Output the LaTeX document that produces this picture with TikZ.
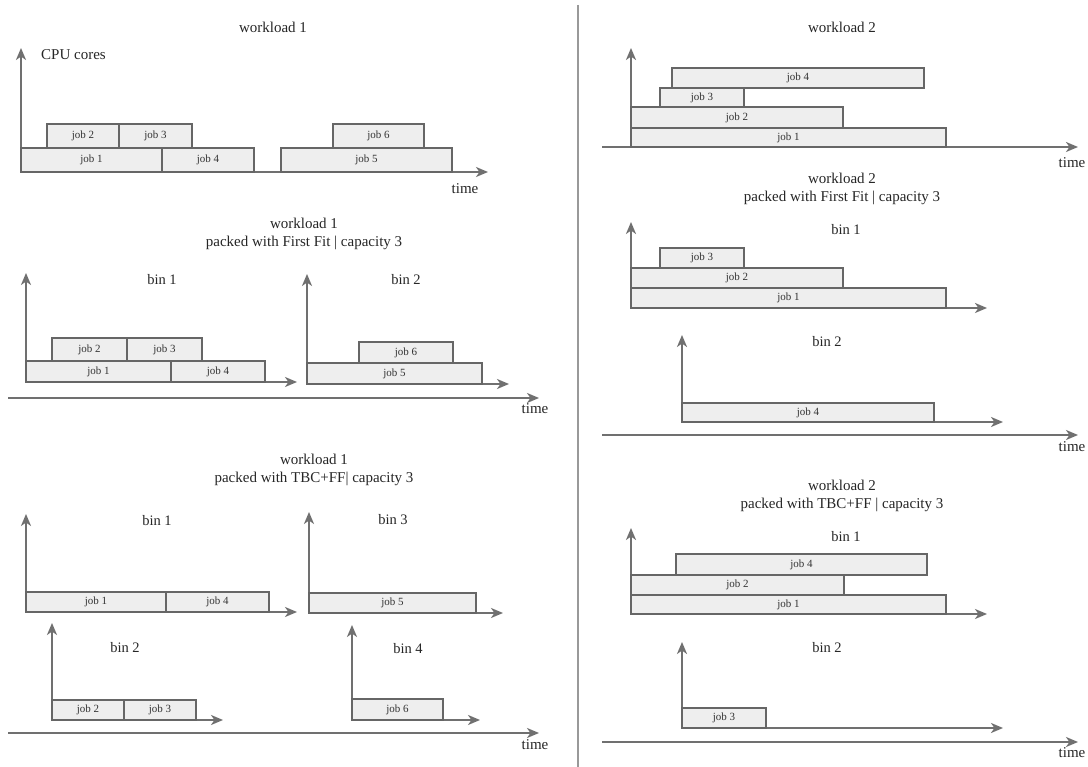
\documentclass[tikz,border=0pt]{standalone}
\usepackage{fontspec}
\setmainfont{Liberation Serif}
\usetikzlibrary{arrows.meta}
\definecolor{axisgray}{HTML}{707070}
\definecolor{boxline}{HTML}{666666}
\definecolor{boxfill}{HTML}{EEEEEE}
\definecolor{divgray}{HTML}{999999}
\tikzset{
  jobsty/.style={draw=boxline, fill=boxfill, line width=1.5pt, inner sep=0pt, outer sep=0pt,
    font=\fontsize{11}{13}\selectfont, text=black!80},
  axisln/.style={draw=axisgray, line width=2pt, line join=miter},
  tip/.style={-{Stealth[length=12pt,width=10pt,inset=3.5pt]}},
  tiptwo/.style={{Stealth[length=12pt,width=10pt,inset=3.5pt]}-{Stealth[length=12pt,width=10pt,inset=3.5pt]}},
  titlesty/.style={font=\fontsize{15}{18}\selectfont, align=center, text=black!85, inner sep=0pt},
  binsty/.style={font=\fontsize{14.5}{17}\selectfont, text=black!85, inner sep=0pt},
  timesty/.style={font=\fontsize{15}{18}\selectfont, text=black!85, inner sep=0pt},
}
\newcommand{\jobbox}[6]{\node[jobsty, minimum width={(#4)-(#2)}, minimum height={(#5)-(#3)}] (#1) at ({((#2)+(#4))/2},{((#3)+(#5))/2}) {#6};}
\begin{document}
\begin{tikzpicture}[x=1pt,y=-1pt]
\useasboundingbox (0,0) rectangle (1088,767);
\fill[white] (0,0) rectangle (1088,767);

% divider
\coordinate (divtop) at (578,5);
\coordinate (divbot) at (578,767);
\draw[draw=divgray, line width=1.5pt] (divtop) -- (divbot);

% ===== workload 1 =====
\node[titlesty] (t1) at (273,27) {workload 1};
\node[titlesty, anchor=west] (cpu) at (41,55) {CPU cores};
\coordinate (a1o) at (21,172);
\coordinate (a1y) at (21,48);
\coordinate (a1x) at (488,172);
\draw[axisln, tiptwo] (a1y) -- (a1o) -- (a1x);
\node[timesty] (time1) at (465,189) {time};
\jobbox{w1j1}{21}{148}{162}{172}{job 1}
\jobbox{w1j4}{162}{148}{254}{172}{job 4}
\jobbox{w1j2}{47}{124}{119}{148}{job 2}
\jobbox{w1j3}{119}{124}{192}{148}{job 3}
\jobbox{w1j5}{281}{148}{452}{172}{job 5}
\jobbox{w1j6}{333}{124}{424}{148}{job 6}

% ===== workload 1 First Fit =====
\node[titlesty] (t2) at (304,234) {workload 1\\packed with First Fit | capacity 3};
\coordinate (b1o) at (26,382);
\coordinate (b1y) at (26,273);
\coordinate (b1x) at (297,382);
\draw[axisln, tiptwo] (b1y) -- (b1o) -- (b1x);
\node[binsty] (bin1a) at (162,280) {bin 1};
\jobbox{f1j1}{26}{361}{171}{382}{job 1}
\jobbox{f1j4}{171}{361}{265}{382}{job 4}
\jobbox{f1j2}{52}{338}{127}{361}{job 2}
\jobbox{f1j3}{127}{338}{202}{361}{job 3}
\coordinate (b2o) at (307,384);
\coordinate (b2y) at (307,274);
\coordinate (b2x) at (509,384);
\draw[axisln, tiptwo] (b2y) -- (b2o) -- (b2x);
\node[binsty] (bin2a) at (406,280) {bin 2};
\jobbox{f1j5}{307}{363}{482}{384}{job 5}
\jobbox{f1j6}{359}{342}{453}{363}{job 6}
\coordinate (L1s) at (8,398);
\coordinate (L1e) at (539,398);
\draw[axisln, tip] (L1s) -- (L1e);
\node[timesty] (time2) at (535,409) {time};

% ===== workload 1 TBC+FF =====
\node[titlesty] (t3) at (314,470) {workload 1\\packed with TBC+FF| capacity 3};
\coordinate (c1o) at (26,612);
\coordinate (c1y) at (26,514);
\coordinate (c1x) at (297,612);
\draw[axisln, tiptwo] (c1y) -- (c1o) -- (c1x);
\node[binsty] (bin1b) at (157,521) {bin 1};
\jobbox{t1j1}{26}{592}{166}{612}{job 1}
\jobbox{t1j4}{166}{592}{269}{612}{job 4}
\coordinate (c2o) at (52,720);
\coordinate (c2y) at (52,623);
\coordinate (c2x) at (223,720);
\draw[axisln, tiptwo] (c2y) -- (c2o) -- (c2x);
\node[binsty] (bin2b) at (125,648) {bin 2};
\jobbox{t1j2}{52}{700}{124}{720}{job 2}
\jobbox{t1j3}{124}{700}{196}{720}{job 3}
\coordinate (c3o) at (309,613);
\coordinate (c3y) at (309,512);
\coordinate (c3x) at (503,613);
\draw[axisln, tiptwo] (c3y) -- (c3o) -- (c3x);
\node[binsty] (bin3b) at (393,520) {bin 3};
\jobbox{t1j5}{309}{593}{476}{613}{job 5}
\coordinate (c4o) at (352,720);
\coordinate (c4y) at (352,625);
\coordinate (c4x) at (480,720);
\draw[axisln, tiptwo] (c4y) -- (c4o) -- (c4x);
\node[binsty] (bin4b) at (408,649) {bin 4};
\jobbox{t1j6}{352}{699}{443}{720}{job 6}
\coordinate (L2s) at (8,733);
\coordinate (L2e) at (539,733);
\draw[axisln, tip] (L2s) -- (L2e);
\node[timesty] (time3) at (535,745) {time};

% ===== workload 2 =====
\node[titlesty] (t4) at (842,27) {workload 2};
\coordinate (d1o) at (631,147);
\coordinate (d1y) at (631,48);
\coordinate (R1s) at (602,147);
\coordinate (R1e) at (1078,147);
\draw[axisln, tip] (R1s) -- (R1e);
\draw[axisln, tip] (d1o) -- (d1y);
\node[timesty] (time4) at (1072,163) {time};
\jobbox{w2j1}{631}{128}{946}{147}{job 1}
\jobbox{w2j2}{631}{107}{843}{128}{job 2}
\jobbox{w2j3}{660}{88}{744}{107}{job 3}
\jobbox{w2j4}{672}{68}{924}{88}{job 4}

% ===== workload 2 First Fit =====
\node[titlesty] (t5) at (842,189) {workload 2\\packed with First Fit | capacity 3};
\coordinate (e1o) at (631,308);
\coordinate (e1y) at (631,222);
\coordinate (e1x) at (987,308);
\draw[axisln, tiptwo] (e1y) -- (e1o) -- (e1x);
\node[binsty] (bin1c) at (846,230) {bin 1};
\jobbox{f2j1}{631}{288}{946}{308}{job 1}
\jobbox{f2j2}{631}{268}{843}{288}{job 2}
\jobbox{f2j3}{660}{248}{744}{268}{job 3}
\coordinate (e2o) at (682,422);
\coordinate (e2y) at (682,335);
\coordinate (e2x) at (1003,422);
\draw[axisln, tiptwo] (e2y) -- (e2o) -- (e2x);
\node[binsty] (bin2c) at (827,342) {bin 2};
\jobbox{f2j4}{682}{403}{934}{422}{job 4}
\coordinate (R2s) at (602,435);
\coordinate (R2e) at (1078,435);
\draw[axisln, tip] (R2s) -- (R2e);
\node[timesty] (time5) at (1072,447) {time};

% ===== workload 2 TBC+FF =====
\node[titlesty] (t6) at (842,496) {workload 2\\packed with TBC+FF | capacity 3};
\coordinate (g1o) at (631,614);
\coordinate (g1y) at (631,528);
\coordinate (g1x) at (987,614);
\draw[axisln, tiptwo] (g1y) -- (g1o) -- (g1x);
\node[binsty] (bin1d) at (846,537) {bin 1};
\jobbox{t2j1}{631}{595}{946}{614}{job 1}
\jobbox{t2j2}{631}{575}{844}{595}{job 2}
\jobbox{t2j4}{676}{554}{927}{575}{job 4}
\coordinate (g2o) at (682,728);
\coordinate (g2y) at (682,642);
\coordinate (g2x) at (1003,728);
\draw[axisln, tiptwo] (g2y) -- (g2o) -- (g2x);
\node[binsty] (bin2d) at (827,648) {bin 2};
\jobbox{t2j3}{682}{708}{766}{728}{job 3}
\coordinate (R3s) at (602,742);
\coordinate (R3e) at (1078,742);
\draw[axisln, tip] (R3s) -- (R3e);
\node[timesty] (time6) at (1072,753) {time};
\end{tikzpicture}
\end{document}
